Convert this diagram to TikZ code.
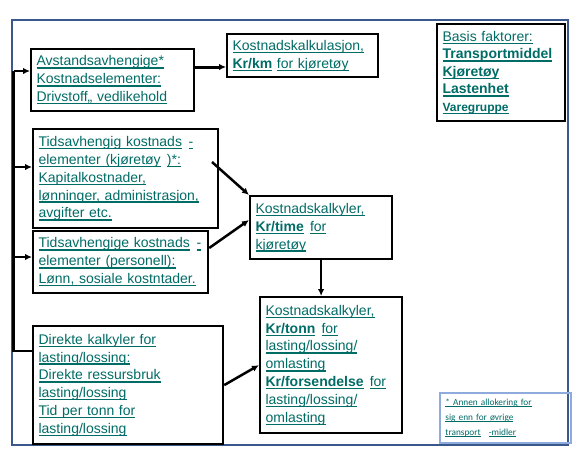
\documentclass[tikz,border=0pt]{standalone}
\usepackage{fontspec}
\setmainfont{Liberation Sans}
\newfontfamily\notefont{Carlito}
\usetikzlibrary{arrows.meta,positioning}
\definecolor{tealtxt}{RGB}{0,108,102}
\definecolor{framebl}{RGB}{58,88,140}
\definecolor{notebl}{RGB}{143,170,220}
\newcommand{\undl}[1]{\leavevmode\setbox0\hbox{#1}\rlap{\rule[-0.2em]{\wd0}{0.1em}}\box0}

\begin{document}
\begin{tikzpicture}[x=1pt,y=-1pt,
	box/.style={draw=black,line width=2.2pt,anchor=north west,align=left,inner xsep=5.5pt,inner ysep=0pt,
		text=tealtxt,font=\fontsize{14}{17.8}\selectfont},
	flow/.style={line width=2.5pt,-{Latex[length=7pt,width=6.5pt]}},
	link/.style={line width=2.3pt}]
\path[use as bounding box,fill=white] (0,0) rectangle (583,456);
\draw[framebl,line width=2.8pt] (12,20) rectangle (568,445);

\node(avst) [box,text width=152pt,minimum height=62pt] at (30,48)
	{\undl{Avstandsavhengige*}\\ \undl{Kostnadselementer:}\\ \undl{Drivstoff,, vedlikehold}};
\node(kalkkm) [box,text width=140pt,minimum height=43pt] at (226,33)
	{\undl{Kostnadskalkulasjon,}\\ \textbf{\undl{Kr/km}} \undl{for kjøretøy}};
\node(basis) [box,text width=117pt,minimum height=97pt,font=\fontsize{14}{17.5}\selectfont] at (436,23)
	{\undl{Basis faktorer:}\\ \textbf{\undl{Transportmiddel}}\\ \textbf{\undl{Kjøretøy}}\\
	\textbf{\undl{Lastenhet}}\\ {\fontsize{12}{17.5}\selectfont\textbf{\undl{Varegruppe}}}};
\node(tidkj) [box,text width=174pt,minimum height=99pt] at (32,128)
	{\undl{Tidsavhengig kostnads}\hspace{2pt} \undl{-}\\ \undl{elementer (kjøretøy}\hspace{1.5pt} \undl{)*:}\\
	\undl{Kapitalkostnader,}\\ \undl{lønninger, administrasjon,}\\ \undl{avgifter etc.}};
\node(tidpers) [box,text width=164pt,minimum height=62pt] at (32,230)
	{\undl{Tidsavhengige kostnads}\hspace{2pt} \undl{-}\\ \undl{elementer (personell):}\\ \undl{Lønn, sosiale kostntader.}};
\node(kalktime) [box,text width=131pt,minimum height=63pt] at (249,195)
	{\undl{Kostnadskalkyler,}\\ \textbf{\undl{Kr/time}}\hspace{1.5pt} \undl{for}\\ \undl{kjøretøy}};
\node(kalktonn) [box,text width=131pt,minimum height=136pt] at (259,296)
	{\undl{Kostnadskalkyler,}\\ \textbf{\undl{Kr/tonn}}\hspace{1.5pt} \undl{for}\\ \undl{lasting/lossing/}\\ \undl{omlasting}\\
	\textbf{\undl{Kr/forsendelse}}\hspace{1.5pt} \undl{for}\\ \undl{lasting/lossing/}\\ \undl{omlasting}};
\node(direkte) [box,text width=179pt,minimum height=118pt] at (32,325)
	{\undl{Direkte kalkyler for}\\ \undl{lasting/lossing:}\\ \undl{Direkte ressursbruk}\\
	\undl{lasting/lossing}\\ \undl{Tid per tonn for}\\ \undl{lasting/lossing}};
\node(note) [box,draw=notebl,line width=1.8pt,text width=120pt,minimum height=50pt,
	font=\notefont\fontsize{9.3}{15}\selectfont] at (439,392)
	{\undl{* Annen allokering for}\\ \undl{sig enn for øvrige}\\ \undl{transport}\hspace{5pt} \undl{-midler}};

% left trunk
\coordinate (ttop) at (13.5,71);
\coordinate (tkj) at (13.5,167);
\coordinate (tpers) at (13.5,257);
\coordinate (tbot) at (13.5,351);
\draw[link] (ttop) -- (tbot) -- (tbot -| direkte.west);
\draw[flow] (ttop) -- (ttop -| avst.west);
\draw[flow] (tkj) -- (tkj -| tidkj.west);
\draw[flow] (tpers) -- (tpers -| tidpers.west);

% towards the cost calculations
\coordinate (kmrow) at (0,67);
\coordinate (tkout) at (212,162);
\coordinate (tprow) at (0,248);
\coordinate (ktrow) at (0,220);
\draw[flow,line width=3pt] (avst.east |- kmrow) -- (kalkkm.west |- kmrow);
\draw[flow] (tkout) -- (kalktime.north west);
\draw[flow] (tidpers.east |- tprow) -- (kalktime.west |- ktrow);
\draw[flow] (kalktime.south) -- (kalktime.south |- kalktonn.north);
\draw[flow] (direkte.east) -- (kalktonn.west);
\end{tikzpicture}
\end{document}
